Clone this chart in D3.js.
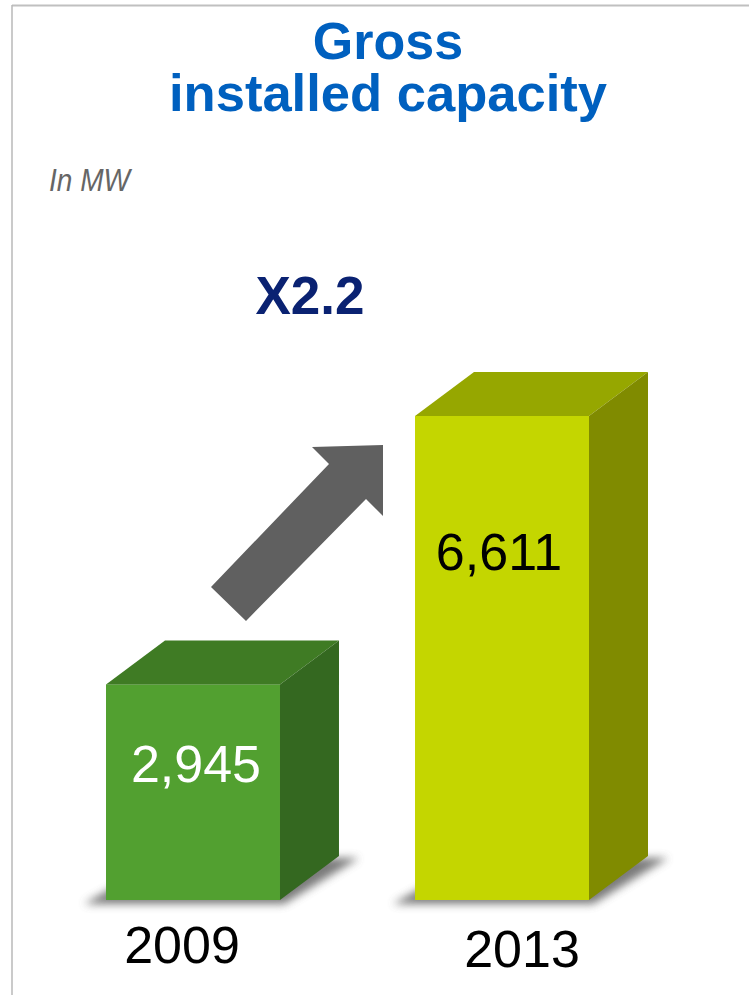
<!DOCTYPE html>
<html>
<head>
<meta charset="utf-8">
<script src="https://cdn.jsdelivr.net/npm/d3@7"></script>
<style>
  body { margin: 0; background: #fff; }
  text { font-family: "Liberation Sans", Arial, sans-serif; }
</style>
</head>
<body>
<div id="chart"></div>
<script>
// DATOS
var years = ['2009', '2013'];
var capacity = [2945, 6611];
var valueLabels = ['2,945', '6,611'];
var growthLabel = 'X2.2';
var titleLines = ['Gross', 'installed capacity'];

var width = 749, height = 995;

// colores de cada barra: frente, tapa, lateral
var frontColors = ['#52a030', '#c4d600'];
var topColors = ['#3f7b24', '#96a700'];
var sideColors = ['#346820', '#808b00'];
var valueColors = ['#ffffff', '#000000'];

// ajustes de posicion de los textos
var valueDy = [98, 154];
var valueDx = [3, -3];
var yearDx = [-11, 20];
var yearY = [963, 967];

// profundidad del 3D
var depthX = 59, depthY = -44;

var svg = d3.select('#chart').append('svg')
    .attr('width', width)
    .attr('height', height);

var defs = svg.append('defs');
defs.append('filter').attr('id', 'sombra')
    .attr('x', '-20%').attr('y', '-50%').attr('width', '140%').attr('height', '200%')
    .append('feGaussianBlur').attr('stdDeviation', 4);

// MARCO
svg.append('line')
    .attr('x1', 12).attr('y1', 5.5).attr('x2', width).attr('y2', 5.5)
    .attr('stroke', '#c0c0c0').attr('stroke-width', 2);
svg.append('line')
    .attr('x1', 12).attr('y1', 5).attr('x2', 12).attr('y2', height)
    .attr('stroke', '#b8b8b8').attr('stroke-width', 1.5);

// ESCALAS
var x = d3.scaleBand().domain(years).range([106, 589]).paddingInner(0.437).paddingOuter(0);
var y = d3.scaleLinear().domain([0, d3.max(capacity)]).range([900, 416]);
var bw = x.bandwidth();
var base = y(0);

// BARRAS 3D
var bars = svg.selectAll('g.barra')
    .data(years)
    .enter().append('g')
    .attr('class', 'barra');

// sombra en el suelo
bars.append('path')
    .attr('fill', '#5a5a5a')
    .attr('opacity', 0.8)
    .attr('filter', 'url(#sombra)')
    .attr('d', function (d) {
        var x0 = x(d);
        return 'M' + (x0 - 22) + ',' + (base + 4) +
            'L' + (x0 + bw + 4) + ',' + (base + 4) +
            'L' + (x0 + bw + depthX + 20) + ',' + (base + depthY + 2) +
            'L' + (x0 + depthX) + ',' + (base + depthY + 2) + 'Z';
    });

// cara frontal
bars.append('rect')
    .attr('x', function (d) { return x(d); })
    .attr('y', function (d, i) { return y(capacity[i]); })
    .attr('width', bw)
    .attr('height', function (d, i) { return base - y(capacity[i]); })
    .attr('fill', function (d, i) { return frontColors[i]; });

// tapa
bars.append('path')
    .attr('fill', function (d, i) { return topColors[i]; })
    .attr('d', function (d, i) {
        var x0 = x(d), t = y(capacity[i]);
        return 'M' + x0 + ',' + t +
            'L' + (x0 + depthX) + ',' + (t + depthY) +
            'L' + (x0 + bw + depthX) + ',' + (t + depthY) +
            'L' + (x0 + bw) + ',' + t + 'Z';
    });

// lateral
bars.append('path')
    .attr('fill', function (d, i) { return sideColors[i]; })
    .attr('d', function (d, i) {
        var x1 = x(d) + bw, t = y(capacity[i]);
        return 'M' + x1 + ',' + t +
            'L' + (x1 + depthX) + ',' + (t + depthY) +
            'L' + (x1 + depthX) + ',' + (base + depthY) +
            'L' + x1 + ',' + base + 'Z';
    });

// valores dentro de las barras
bars.append('text')
    .attr('text-anchor', 'middle')
    .attr('x', function (d, i) { return x(d) + bw / 2 + valueDx[i]; })
    .attr('y', function (d, i) { return y(capacity[i]) + valueDy[i]; })
    .attr('font-size', '52px')
    .attr('fill', function (d, i) { return valueColors[i]; })
    .text(function (d, i) { return valueLabels[i]; });

// años
bars.append('text')
    .attr('text-anchor', 'middle')
    .attr('x', function (d, i) { return x(d) + bw / 2 + yearDx[i]; })
    .attr('y', function (d, i) { return yearY[i]; })
    .attr('font-size', '52px')
    .attr('fill', '#000')
    .text(function (d) { return d; });

// FLECHA de crecimiento
var flecha = [[211, 587], [329, 464], [312, 447], [383, 445], [383, 516], [366, 499], [246, 621]];
svg.append('path')
    .attr('fill', '#606060')
    .attr('d', d3.line()(flecha) + 'Z');

svg.append('text')
    .attr('text-anchor', 'middle')
    .attr('x', 310)
    .attr('y', 314)
    .attr('font-size', '53px')
    .attr('font-weight', 'bold')
    .attr('fill', '#0a2272')
    .text(growthLabel);

// TITULO (un solo texto, dos lineas)
var titulo = svg.append('text')
    .attr('text-anchor', 'middle')
    .attr('font-size', '52px')
    .attr('font-weight', 'bold')
    .attr('fill', '#0060bf');
titulo.append('tspan')
    .attr('x', 388).attr('y', 59)
    .text(titleLines[0]);
titulo.append('tspan')
    .attr('x', 388).attr('y', 111)
    .attr('textLength', 438)
    .attr('lengthAdjust', 'spacingAndGlyphs')
    .text(titleLines[1]);

svg.append('text')
    .attr('x', 49).attr('y', 191)
    .attr('font-size', '31px')
    .attr('font-style', 'italic')
    .attr('fill', '#666')
    .attr('textLength', 81)
    .attr('lengthAdjust', 'spacingAndGlyphs')
    .text('In MW');
</script>
</body>
</html>
